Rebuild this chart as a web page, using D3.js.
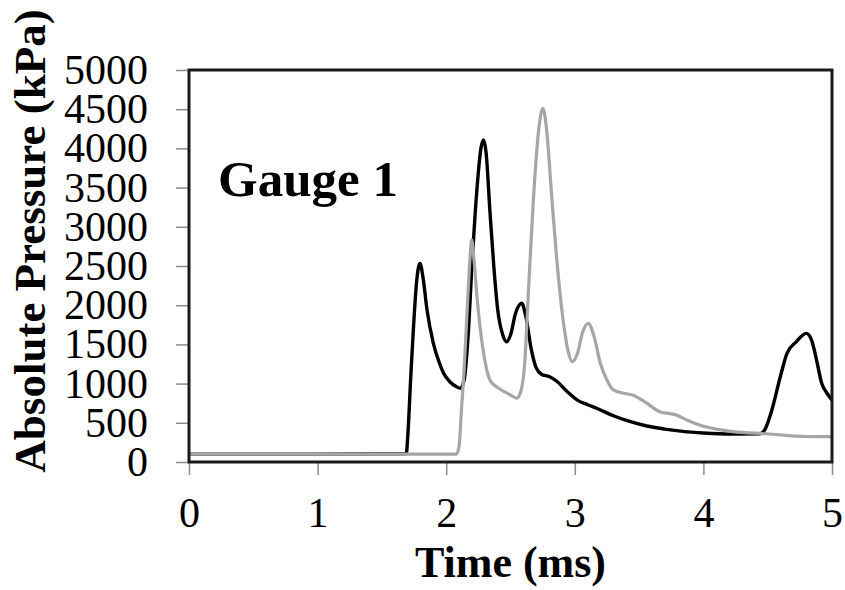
<!DOCTYPE html>
<html>
<head>
<meta charset="utf-8">
<script src="https://cdn.jsdelivr.net/npm/d3@7"></script>
<style>
  html, body { margin: 0; padding: 0; background: #fff; }
  svg { display: block; }
  text { font-family: "Liberation Serif", "Times New Roman", serif; fill: #000; }
</style>
</head>
<body>
<svg id="chart" width="845" height="590"></svg>
<script>
// ---- data ----
const xTicks = [0, 1, 2, 3, 4, 5];
const yTicks = [0, 500, 1000, 1500, 2000, 2500, 3000, 3500, 4000, 4500, 5000];

// black trace (time ms, pressure kPa)
const blackTime = [0, 1.0, 1.69, 1.70, 1.725, 1.745, 1.77, 1.796, 1.82, 1.85, 1.90, 1.95, 1.98, 2.03, 2.08, 2.11, 2.14, 2.17, 2.20, 2.24, 2.27, 2.289, 2.31, 2.34, 2.37, 2.40, 2.44, 2.47, 2.50, 2.54, 2.587, 2.62, 2.66, 2.70, 2.74, 2.80, 2.86, 2.94, 3.02, 3.10, 3.17, 3.30, 3.42, 3.56, 3.70, 3.84, 4.00, 4.23, 4.44, 4.48, 4.53, 4.60, 4.65, 4.72, 4.80, 4.84, 4.88, 4.92, 4.96, 5.00];
const blackPressure = [100, 100, 105, 300, 1100, 1700, 2300, 2534, 2350, 1950, 1514, 1250, 1131, 1020, 960, 940, 1050, 1600, 2500, 3500, 4000, 4107, 3950, 3200, 2500, 1950, 1620, 1534, 1620, 1900, 2024, 1850, 1450, 1200, 1120, 1090, 1030, 900, 790, 730, 685, 590, 520, 459, 420, 390, 370, 357, 360, 420, 650, 1100, 1386, 1530, 1641, 1560, 1300, 1004, 880, 790];

// gray trace
const grayTime = [0, 2.08, 2.10, 2.12, 2.14, 2.165, 2.185, 2.198, 2.215, 2.24, 2.263, 2.30, 2.34, 2.40, 2.46, 2.50, 2.548, 2.58, 2.61, 2.64, 2.68, 2.72, 2.752, 2.78, 2.82, 2.86, 2.91, 2.95, 2.98, 3.02, 3.06, 3.105, 3.15, 3.20, 3.25, 3.30, 3.38, 3.45, 3.55, 3.66, 3.79, 3.88, 3.97, 4.10, 4.23, 4.49, 4.80, 5.00];
const grayPressure = [100, 100, 200, 700, 1200, 2000, 2600, 2832, 2600, 2100, 1726, 1300, 1046, 950, 890, 855, 815, 900, 1250, 2200, 3400, 4250, 4511, 4250, 3400, 2577, 1800, 1400, 1280, 1380, 1650, 1769, 1600, 1250, 1046, 920, 876, 855, 760, 642, 600, 530, 472, 420, 387, 360, 325, 323];

const xLabel = "Time (ms)";
const yLabel = "Absolute Pressure (kPa)";
const annotation = "Gauge 1";

// ---- layout ----
const W = 845, H = 590;
const m = { left: 189, right: 13, top: 70, bottom: 128 };
const pw = W - m.left - m.right, ph = H - m.top - m.bottom;

const svg = d3.select("#chart");
const x = d3.scaleLinear().domain([0, 5]).range([m.left, m.left + pw]);
const y = d3.scaleLinear().domain([0, 5000]).range([m.top + ph, m.top]);

svg.append("defs").append("clipPath").attr("id", "clip")
  .append("rect").attr("x", m.left).attr("y", m.top).attr("width", pw).attr("height", ph);

// axes
const yAxis = svg.append("g").attr("transform", `translate(${m.left},0)`)
  .call(d3.axisLeft(y).tickValues(yTicks).tickSize(13).tickPadding(28).tickFormat(d3.format("d")));
const xAxis = svg.append("g").attr("transform", `translate(0,${m.top + ph})`)
  .call(d3.axisBottom(x).tickValues(xTicks).tickSize(13).tickPadding(22).tickFormat(d3.format("d")));
[xAxis, yAxis].forEach(g => {
  g.select(".domain").remove();
  g.selectAll(".tick line").attr("stroke", "#8c8c8c").attr("stroke-width", 1.5);
  g.selectAll(".tick text").style("font-family", '"Liberation Serif", "Times New Roman", serif')
    .style("font-size", "42px").attr("fill", "#000");
});

// lines
const line = d3.line().x(d => x(d[0])).y(d => y(d[1])).curve(d3.curveMonotoneX);
const blackData = blackTime.map((t, i) => [t, blackPressure[i]]);
const grayData = grayTime.map((t, i) => [t, grayPressure[i]]);

const plot = svg.append("g").attr("clip-path", "url(#clip)");
plot.append("path").datum(blackData).attr("d", line)
  .attr("fill", "none").attr("stroke", "#000").attr("stroke-width", 3.4).attr("stroke-linejoin", "round");
plot.append("path").datum(grayData).attr("d", line)
  .attr("fill", "none").attr("stroke", "#a6a6a6").attr("stroke-width", 3.2).attr("stroke-linejoin", "round");

// frame
svg.append("rect").attr("x", m.left).attr("y", m.top).attr("width", pw).attr("height", ph)
  .attr("fill", "none").attr("stroke", "#1a1a1a").attr("stroke-width", 3);

// labels
svg.append("text").attr("x", m.left + pw / 2).attr("y", 577).attr("text-anchor", "middle")
  .style("font-size", "44px").style("font-weight", "bold").text(xLabel);
svg.append("text").attr("transform", "translate(45,241) rotate(-90)").attr("text-anchor", "middle")
  .style("font-size", "45px").style("font-weight", "bold").text(yLabel);
svg.append("text").attr("x", 218).attr("y", 196)
  .style("font-size", "51px").style("font-weight", "bold").text(annotation);
</script>
</body>
</html>
